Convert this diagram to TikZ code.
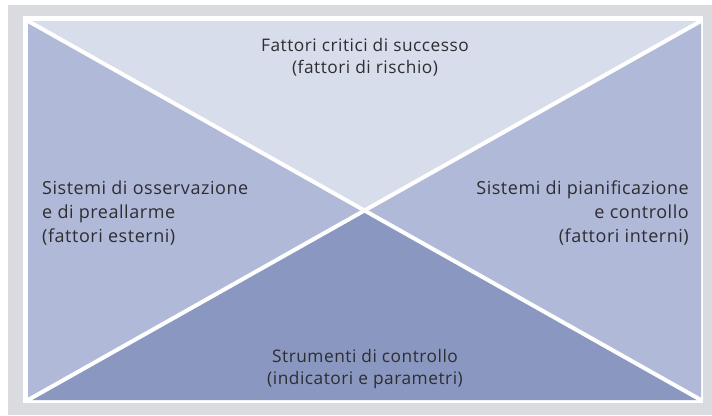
\documentclass[tikz,border=0pt]{standalone}
\usepackage{fontspec}
\setmainfont{Open Sans}[LetterSpace=3]
\definecolor{framegray}{RGB}{217,219,222}
\definecolor{toptri}{RGB}{216,221,235}
\definecolor{sidetri}{RGB}{176,185,216}
\definecolor{bottri}{RGB}{138,151,192}
\definecolor{txt}{RGB}{45,45,50}
\begin{document}
\begin{tikzpicture}[x=1pt,y=-1pt,
  lbl/.style={text=txt,font=\fontsize{17.3}{22}\selectfont,inner sep=0pt},
  sidelbl/.style={lbl,font=\fontsize{18}{24}\selectfont},
  diag/.style={draw=white,line width=4pt}]
\useasboundingbox (0,0) rectangle (712,415);
\fill[white] (0,0) rectangle (712,415);
\fill[framegray] (8,5) rectangle (712,415);
\fill[white] (23,16) rectangle (703,403);
\coordinate (tl) at (28,21);
\coordinate (tr) at (701,21);
\coordinate (bl) at (28,400);
\coordinate (br) at (701,400);
\coordinate (c) at (364.5,210.5);
\fill[toptri] (tl) -- (tr) -- (c) -- cycle;
\fill[sidetri] (tl) -- (bl) -- (c) -- cycle;
\fill[sidetri] (tr) -- (br) -- (c) -- cycle;
\fill[bottri] (bl) -- (br) -- (c) -- cycle;
\draw[diag] (tl) -- (br);
\draw[diag] (tr) -- (bl);
\node[lbl,align=center,anchor=base] (top) at (365,73) {Fattori critici di successo\\(fattori di rischio)};
\node[sidelbl,align=left,anchor=base west] (left) at (42,242) {Sistemi di osservazione\\e di preallarme\\(fattori esterni)};
\node[sidelbl,align=right,anchor=base east] (right) at (689,242) {Sistemi di pianificazione\\e controllo\\(fattori interni)};
\node[lbl,align=center,anchor=base] (bottom) at (365,384) {Strumenti di controllo\\(indicatori e parametri)};
\end{tikzpicture}
\end{document}
